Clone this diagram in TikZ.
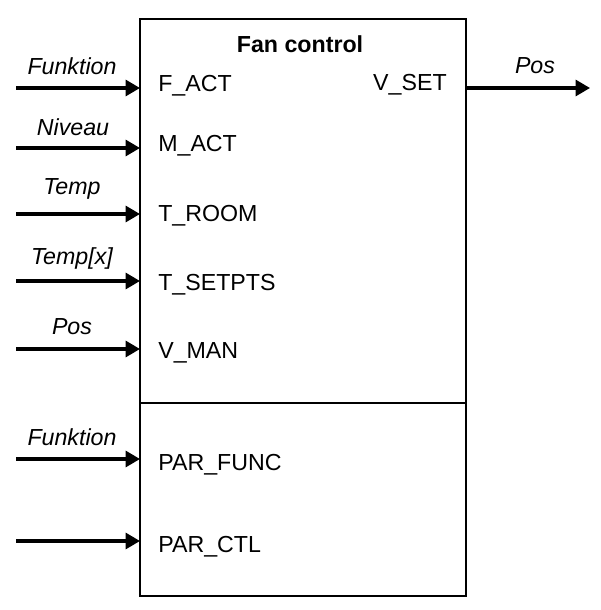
\documentclass[tikz,border=0pt]{standalone}
\usepackage{fontspec}
\setmainfont{Liberation Sans}
\usetikzlibrary{arrows.meta}

\tikzset{
  sig/.style={line width=2.2pt, -{Triangle[length=0.36cm,width=0.4cm]}},
  port/.style={inner sep=0pt, font=\fontsize{16.5}{19}\selectfont},
  lbl/.style={inner sep=0pt, font=\fontsize{16.5}{19}\selectfont\itshape},
}

\begin{document}
\begin{tikzpicture}[line cap=butt,line join=miter,x=0.025cm,y=-0.025cm]
	\useasboundingbox (0,0) rectangle (600,610);
	% function block
	\draw [line width=1.1pt] (140,19) rectangle (466,596);
	\coordinate (fbW) at (140,19);
	\coordinate (fbE) at (466,19);
	\draw [line width=1.1pt] (140,403) -- (466,403);
	\node[port, font=\fontsize{16.5}{19}\selectfont\bfseries] (title) at (300,44) {Fan control};
	% inputs
	\node[port, anchor=west] (fact) at (158,86) {F\_ACT};
	\node[port, anchor=west] (mact) at (158,146) {M\_ACT};
	\node[port, anchor=west] (troom) at (158,216) {T\_ROOM};
	\node[port, anchor=west] (tsetpts) at (158,285) {T\_SETPTS};
	\node[port, anchor=west] (vman) at (158,353) {V\_MAN};
	\node[port, anchor=west] (parfunc) at (158,465) {PAR\_FUNC};
	\node[port, anchor=west] (parctl) at (158,547) {PAR\_CTL};
	% output
	\node[port, anchor=east] (vset) at (447,85) {V\_SET};
	\coordinate (i1) at (16,88);
	\coordinate (i2) at (16,148);
	\coordinate (i3) at (16,214);
	\coordinate (i4) at (16,281);
	\coordinate (i5) at (16,349);
	\coordinate (i6) at (16,459);
	\coordinate (i7) at (16,541);
	\coordinate (o1) at (590,88);
	\draw [sig] (i1) -- (i1 -| fbW);
	\draw [sig] (i2) -- (i2 -| fbW);
	\draw [sig] (i3) -- (i3 -| fbW);
	\draw [sig] (i4) -- (i4 -| fbW);
	\draw [sig] (i5) -- (i5 -| fbW);
	\draw [sig] (i6) -- (i6 -| fbW);
	\draw [sig] (i7) -- (i7 -| fbW);
	\draw [sig] (o1 -| fbE) -- (o1);
	% signal names
	\node[lbl] (l1) at (72,66) {Funktion};
	\node[lbl] (l2) at (73,127) {Niveau};
	\node[lbl] (l3) at (72,189) {Temp};
	\node[lbl] (l4) at (72,258) {Temp[x]};
	\node[lbl] (l5) at (72,327) {Pos};
	\node[lbl] (l6) at (72,437) {Funktion};
	\node[lbl] (l7) at (535,66) {Pos};
\end{tikzpicture}
\end{document}
